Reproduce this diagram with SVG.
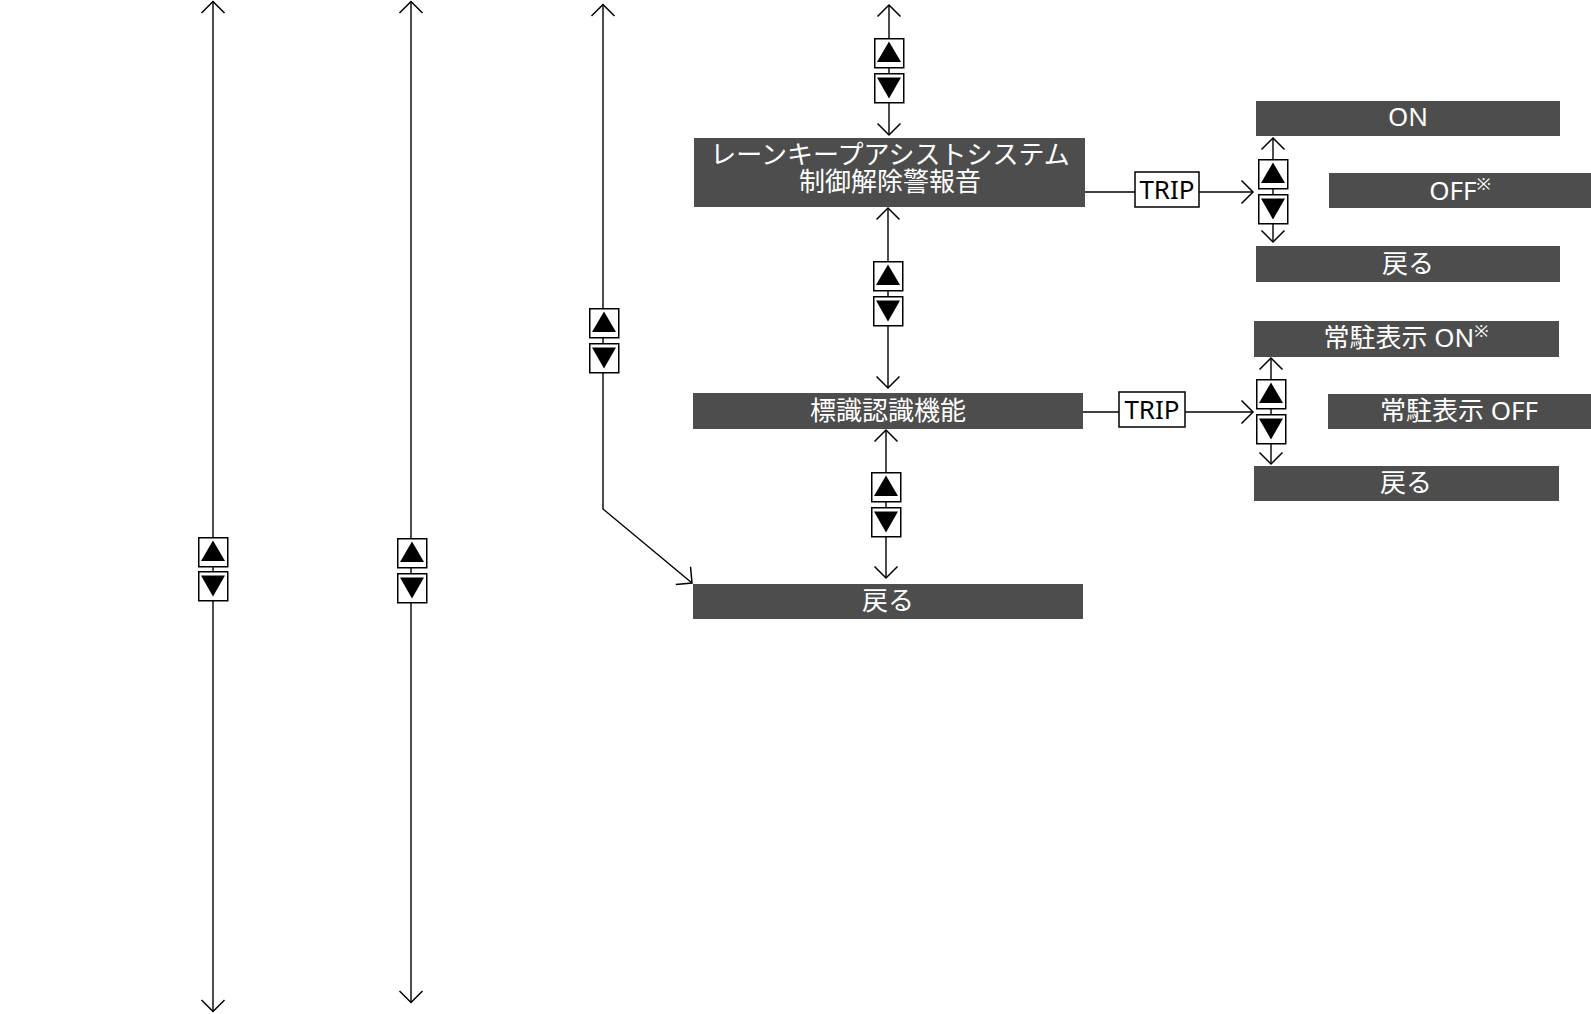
<svg xmlns="http://www.w3.org/2000/svg" xmlns:xlink="http://www.w3.org/1999/xlink" width="1591" height="1014" viewBox="0 0 1591 1014">
<style>
.bg{fill:#fff}
.box{fill:#4d4d4d}
.lbl{fill:#fff;font-family:"Noto Sans","Noto Sans CJK JP",sans-serif;font-size:26px;text-anchor:middle}
.trip{fill:#000;font-family:"Noto Sans","Noto Sans CJK JP",sans-serif;font-size:26px;text-anchor:middle}
.ln{fill:none;stroke:#000;stroke-width:1.4}
.tb{fill:#fff;stroke:#000;stroke-width:1.5}
.sup{font-size:17px}
</style>
<defs>
<marker id="chev" viewBox="-14 -13 16 26" refX="0" refY="0" markerWidth="16" markerHeight="26" markerUnits="userSpaceOnUse" orient="auto-start-reverse">
<path d="M-11.5,-11.5 L0,0 L-11.5,11.5" fill="none" stroke="#000" stroke-width="1.5"/>
</marker>
<g id="btnUp"><rect x="0.75" y="0.75" width="29" height="29" class="tb"/><polygon points="3,24 15,3.5 27,24" fill="#000"/></g>
<g id="btnDn"><rect x="0.75" y="0.75" width="29" height="29" class="tb"/><polygon points="3,4.5 27,4.5 15,25.5" fill="#000"/></g>
</defs>
<rect class="bg" x="0" y="0" width="1591" height="1014"/>

<g id="connectors">
<line class="ln" x1="213" y1="1.5" x2="213" y2="1011.5" marker-start="url(#chev)" marker-end="url(#chev)"/>
<line class="ln" x1="411" y1="1.5" x2="411" y2="1002.5" marker-start="url(#chev)" marker-end="url(#chev)"/>
<path class="ln" d="M603,4.5 V509 L692,583" marker-start="url(#chev)" marker-end="url(#chev)"/>
<line class="ln" x1="889" y1="5" x2="889" y2="135" marker-start="url(#chev)" marker-end="url(#chev)"/>
<line class="ln" x1="888" y1="208" x2="888" y2="388" marker-start="url(#chev)" marker-end="url(#chev)"/>
<line class="ln" x1="886" y1="430" x2="886" y2="578" marker-start="url(#chev)" marker-end="url(#chev)"/>
<line class="ln" x1="1273" y1="138" x2="1273" y2="242" marker-start="url(#chev)" marker-end="url(#chev)"/>
<line class="ln" x1="1271" y1="358" x2="1271" y2="464" marker-start="url(#chev)" marker-end="url(#chev)"/>
<line class="ln" x1="1085" y1="192" x2="1135" y2="192"/>
<line class="ln" x1="1199" y1="192" x2="1253" y2="192" marker-end="url(#chev)"/>
<line class="ln" x1="1083" y1="412" x2="1119" y2="412"/>
<line class="ln" x1="1185" y1="412" x2="1253" y2="412" marker-end="url(#chev)"/>
<use xlink:href="#btnUp" x="198" y="537"/><use xlink:href="#btnDn" x="198" y="571"/>
<use xlink:href="#btnUp" x="397" y="538"/><use xlink:href="#btnDn" x="397" y="573"/>
<use xlink:href="#btnUp" x="589" y="308"/><use xlink:href="#btnDn" x="589" y="343"/>
<use xlink:href="#btnUp" x="874" y="38"/><use xlink:href="#btnDn" x="874" y="73"/>
<use xlink:href="#btnUp" x="873" y="261"/><use xlink:href="#btnDn" x="873" y="296"/>
<use xlink:href="#btnUp" x="871" y="472"/><use xlink:href="#btnDn" x="871" y="507"/>
<use xlink:href="#btnUp" x="1258" y="159"/><use xlink:href="#btnDn" x="1258" y="194"/>
<use xlink:href="#btnUp" x="1256" y="379"/><use xlink:href="#btnDn" x="1256" y="414"/>
<g id="trip1"><rect class="tb" x="1135" y="172" width="64" height="35"/><text class="trip" x="1167" y="199">TRIP</text></g>
<g id="trip2"><rect class="tb" x="1119" y="392" width="66" height="35"/><text class="trip" x="1152" y="419">TRIP</text></g>
</g>

<g id="node-lka">
<rect class="box" x="694" y="138" width="391" height="69"/>
<text class="lbl" x="890" y="164">レーンキープアシストシステム<tspan x="890" dy="27">制御解除警報音</tspan></text>
</g>
<g id="node-sign">
<rect class="box" x="693" y="393" width="390" height="36"/>
<text class="lbl" x="888" y="420">標識認識機能</text>
</g>
<g id="node-back-main">
<rect class="box" x="693" y="584" width="390" height="35"/>
<text class="lbl" x="888" y="610">戻る</text>
</g>
<g id="node-on">
<rect class="box" x="1256" y="101" width="304" height="35"/>
<text class="lbl" x="1408" y="126">ON</text>
</g>
<g id="node-off">
<rect class="box" x="1329" y="173" width="262" height="35"/>
<text class="lbl" x="1460" y="200">OFF<tspan class="sup" dy="-10">※</tspan></text>
</g>
<g id="node-back1">
<rect class="box" x="1256" y="246" width="304" height="36"/>
<text class="lbl" x="1408" y="273">戻る</text>
</g>
<g id="node-disp-on">
<rect class="box" x="1254" y="321" width="305" height="36"/>
<text class="lbl" x="1406" y="347">常駐表示 ON<tspan class="sup" dy="-10">※</tspan></text>
</g>
<g id="node-disp-off">
<rect class="box" x="1328" y="394" width="263" height="35"/>
<text class="lbl" x="1459" y="420">常駐表示 OFF</text>
</g>
<g id="node-back2">
<rect class="box" x="1254" y="466" width="305" height="35"/>
<text class="lbl" x="1406" y="492">戻る</text>
</g>
</svg>
